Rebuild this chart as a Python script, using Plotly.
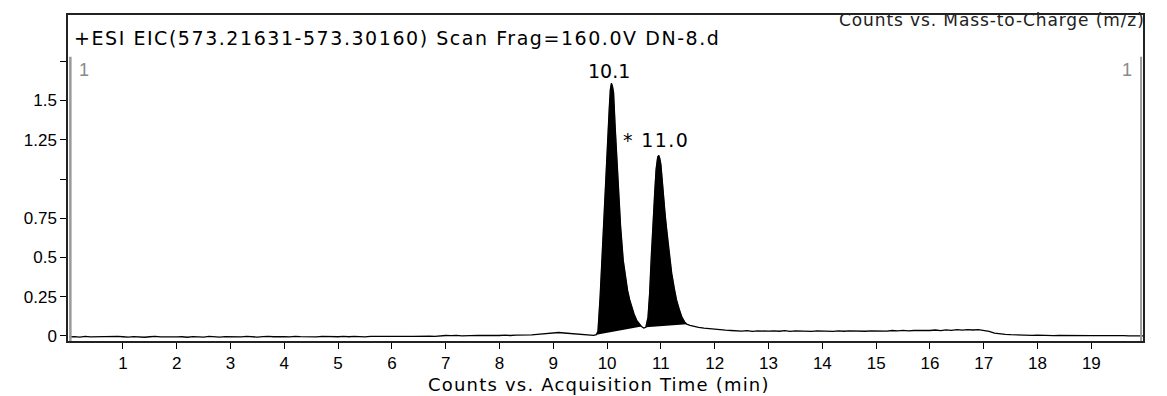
import numpy as np
import plotly.graph_objects as go

# ---- data ----
base_t = [round(0.1 * i, 1) for i in range(0, 98)]  # 0.0 .. 9.7
base_v = [
    -0.006, -0.004, -0.007, -0.003, -0.006, -0.005, -0.008, -0.004, -0.006, -0.003, -0.005,
    -0.007, -0.004, -0.006, -0.008, -0.005, -0.003, -0.006, -0.007, -0.004, -0.006,
    -0.005, -0.008, -0.004, -0.006, -0.007, -0.003, -0.005, -0.007, -0.004, -0.006,
    -0.004, -0.006, -0.003, -0.005, -0.007, -0.004, -0.002, -0.005, -0.003, -0.004,
    -0.006, -0.002, -0.004, -0.005, -0.003, -0.006, -0.002, -0.004, -0.003, -0.005,
    -0.003, -0.005, -0.002, -0.004, -0.006, -0.003, -0.002, -0.004, -0.003, -0.002,
    -0.003, -0.001, -0.002, -0.003, -0.001, -0.002, -0.001, -0.002, 0.001, 0.003,
    0.002, 0.004, 0.001, 0.003, 0.002, 0.004, 0.003, 0.002, 0.004, 0.003,
    0.005, 0.003, 0.006, 0.005, 0.008, 0.007, 0.010, 0.012, 0.015, 0.018,
    0.022, 0.019, 0.017, 0.013, 0.010, 0.008, 0.006,
]
peak_t = [9.75, 9.80, 9.83, 9.87, 9.90, 9.93, 9.96, 9.99, 10.02, 10.04, 10.06, 10.08,
          10.10, 10.12, 10.15, 10.18, 10.21, 10.25, 10.30, 10.34, 10.38, 10.42, 10.46,
          10.50, 10.55, 10.60, 10.64, 10.68, 10.72, 10.76, 10.79, 10.82, 10.85, 10.88,
          10.91, 10.94, 10.96, 10.98, 11.00, 11.02, 11.05, 11.08, 11.11, 11.14, 11.17,
          11.20, 11.25, 11.29, 11.34, 11.39, 11.44, 11.48, 11.54, 11.60, 11.70, 11.80,
          11.90, 12.00]
peak_v = [0.004, 0.008, 0.03, 0.25, 0.48, 0.70, 0.91, 1.12, 1.33, 1.45, 1.57, 1.61,
          1.59, 1.55, 1.33, 1.12, 0.91, 0.70, 0.48, 0.38, 0.29, 0.23, 0.18,
          0.14, 0.10, 0.075, 0.06, 0.05, 0.055, 0.12, 0.27, 0.50, 0.72, 0.91,
          1.06, 1.14, 1.15, 1.13, 1.09, 1.01, 0.87, 0.76, 0.67, 0.57, 0.48,
          0.40, 0.30, 0.23, 0.17, 0.12, 0.09, 0.075, 0.068, 0.062, 0.055, 0.050,
          0.046, 0.042]
tail_t = [round(12.1 + 0.1 * i, 1) for i in range(0, 80)]  # 12.1 .. 20.0
tail_v = [
    0.040, 0.037, 0.035, 0.033, 0.031, 0.034, 0.029, 0.032, 0.030, 0.031,
    0.033, 0.030, 0.034, 0.029, 0.032, 0.030, 0.031, 0.029, 0.032, 0.030,
    0.031, 0.029, 0.033, 0.030, 0.032, 0.031, 0.034, 0.030, 0.033, 0.032,
    0.034, 0.031, 0.035, 0.032, 0.036, 0.033, 0.035, 0.034, 0.037, 0.035,
    0.038, 0.034, 0.039, 0.036, 0.040, 0.037, 0.041, 0.038, 0.040, 0.036,
    0.030, 0.018, 0.012, 0.010, 0.008, 0.006, 0.005, 0.006, 0.004, 0.005,
    0.003, 0.004, 0.002, 0.004, 0.003, 0.002, 0.003, 0.002, 0.003, 0.002,
    0.002, 0.003, 0.001, 0.002, 0.003, 0.002, 0.001, 0.002, 0.002, 0.001,
]
peak_starts = [9.80, 10.72]
peak_ends = [10.64, 11.48]
peak_labels = ["10.1", "* 11.0"]
label_x = [10.04, 10.91]
label_y = [1.69, 1.25]

x_ticks = list(range(1, 20))
y_tickvals = [0, 0.25, 0.5, 0.75, 1.0, 1.25, 1.5, 1.75]
y_ticktext = ["0", "0.25", "0.5", "0.75", "", "1.25", "1.5", ""]

title_text = "+ESI EIC(573.21631-573.30160) Scan Frag=160.0V DN-8.d"
top_right_text = "Counts vs. Mass-to-Charge (m/z)"
x_title = "Counts vs. Acquisition Time (min)"

# ---- build ----
t = np.array(base_t + peak_t + tail_t)
v = np.array(base_v + peak_v + tail_v)

FONT = "Liberation Sans, Arial, sans-serif"
WIDE = "DejaVu Sans, sans-serif"


def spaced(txt, px):
    return f'<span style="letter-spacing:{px}px">{txt}</span>'


fig = go.Figure()

for s, e in zip(peak_starts, peak_ends):
    m = (t >= s - 1e-9) & (t <= e + 1e-9)
    fig.add_trace(go.Scatter(x=t[m], y=v[m], mode="lines", fill="toself",
                             fillcolor="black", line=dict(color="black", width=0.5),
                             hoverinfo="skip", showlegend=False))

fig.add_trace(go.Scatter(x=t, y=v, mode="lines", line=dict(color="black", width=1.3),
                         showlegend=False))

for txt, lx, ly, sp in zip(peak_labels, label_x, label_y, [0.0, 1.4]):
    fig.add_annotation(x=lx, y=ly, text=spaced(txt, sp), showarrow=False,
                       font=dict(family=WIDE, size=19, color="black"))

fig.add_annotation(xref="paper", yref="paper", x=0.004, y=0.93, xanchor="left",
                   yanchor="middle", text=spaced(title_text, 1.55), showarrow=False,
                   font=dict(family=WIDE, size=19, color="black"))
fig.add_annotation(xref="paper", yref="paper", x=1.004, y=0.985, xanchor="right",
                   yanchor="middle", text=spaced(top_right_text, 0.9), showarrow=False,
                   font=dict(family=WIDE, size=17, color="#222"))
fig.add_annotation(xref="paper", yref="paper", x=0.4935, y=-0.132, xanchor="center",
                   yanchor="middle", text=spaced(x_title, 1.2), showarrow=False,
                   font=dict(family=WIDE, size=18, color="black"))
for xx, anc in [(0.008, "left"), (0.992, "right")]:
    fig.add_annotation(xref="paper", yref="paper", x=xx, y=0.83, xanchor=anc,
                       yanchor="middle", text="1", showarrow=False,
                       font=dict(family=FONT, size=18, color="#8a8a8a"))

# gray inner lines along left and right edges
fig.add_shape(type="line", xref="paper", yref="paper", x0=0.0022, x1=0.0022,
              y0=0.0, y1=0.872, line=dict(color="#9a9a9a", width=2.5))
fig.add_shape(type="line", xref="paper", yref="paper", x0=0.9982, x1=0.9982,
              y0=0.0, y1=0.872, line=dict(color="#9a9a9a", width=2))

fig.update_xaxes(range=[-0.02, 19.96], tickvals=x_ticks, ticks="outside", ticklen=6,
                 tickcolor="black", showline=True, linecolor="#222", linewidth=1.5,
                 mirror=True, showgrid=False, zeroline=False,
                 tickfont=dict(family=FONT, size=17, color="black"))
fig.update_yaxes(range=[-0.032, 2.045], tickvals=y_tickvals, ticktext=y_ticktext,
                 ticks="outside", ticklen=6, tickcolor="black", showline=True,
                 linecolor="#222", linewidth=1.5, mirror=True, showgrid=False,
                 zeroline=False, tickfont=dict(family=FONT, size=17, color="black"))
fig.update_layout(width=1167, height=396, margin=dict(l=68, r=24, t=15, b=55),
                  plot_bgcolor="white", paper_bgcolor="white", showlegend=False)

fig.write_html("out.html")
